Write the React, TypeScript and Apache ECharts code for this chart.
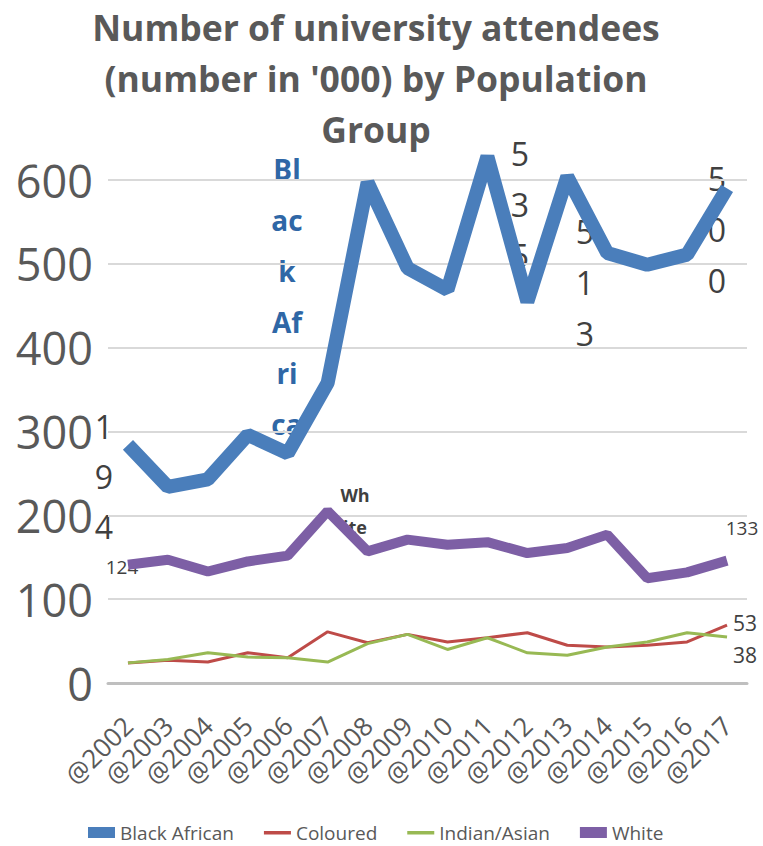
import React, { useEffect, useRef } from "react";
import * as echarts from "echarts";

const years = ["@2002", "@2003", "@2004", "@2005", "@2006", "@2007", "@2008", "@2009", "@2010", "@2011", "@2012", "@2013", "@2014", "@2015", "@2016", "@2017"];
const blackAfrican = [284, 234, 243, 296, 274, 358, 597, 495, 469, 628, 455, 604, 513, 499, 511, 590];
const coloured = [24, 27, 25, 36, 30, 61, 48, 58, 49, 54, 60, 45, 43, 45, 49, 69];
const indianAsian = [24, 28, 36, 31, 30, 25, 47, 58, 40, 54, 36, 33, 43, 49, 60, 55];
const white = [141, 147, 133, 145, 152, 205, 157, 171, 165, 168, 155, 161, 177, 125, 132, 146];
const yTicks = { min: 0, max: 600, interval: 100 };

const titleText = "Number of university attendees\n(number in '000) by Population\nGroup";
const seriesNames = ["Black African", "Coloured", "Indian/Asian", "White"];
const colors = ["#4a7ebb", "#be4b48", "#98b954", "#7d5fa5"];

// text annotations (data labels as shown)
const annotations = [
  { text: "Bl\nac\nk\nAf\nri\nca", x: 287, y: 143, size: 28, lh: 51, bold: true, color: "#2f67a6" },
  { text: "1\n9\n4", x: 104, y: 401, size: 32, lh: 50, bold: false, color: "#404040" },
  { text: "5\n3\n5", x: 520, y: 128, size: 32, lh: 51, bold: false, color: "#404040" },
  { text: "5\n1\n3", x: 585, y: 206, size: 32, lh: 51, bold: false, color: "#404040" },
  { text: "5\n0\n0", x: 717, y: 153, size: 32, lh: 51, bold: false, color: "#404040" },
  { text: "Wh\nite", x: 355, y: 479, size: 18, lh: 32, bold: true, color: "#404040" },
  { text: "124", x: 122, y: 557, size: 19, lh: 20, bold: false, color: "#404040" },
  { text: "133", x: 742, y: 518, size: 19, lh: 20, bold: false, color: "#404040" },
  { text: "53", x: 745, y: 612, size: 21, lh: 22, bold: false, color: "#404040" },
  { text: "38", x: 745, y: 644, size: 21, lh: 22, bold: false, color: "#404040" },
];

const FONT = "'Open Sans', 'DejaVu Sans', sans-serif";
const thinIcon = "path://M0,0h0.05v0.05h-0.05Z M0,4h28v3.5h-28Z M27.95,10.95h0.05v0.05h-0.05Z";

export default function App() {
  const ref = useRef<HTMLDivElement>(null);
  useEffect(() => {
    if (!ref.current) return;
    const chart = echarts.init(ref.current, null, { renderer: "svg" });
    const values = [blackAfrican, coloured, indianAsian, white];
    const widths = [14, 3, 3, 10];
    chart.setOption({
      animation: false,
      backgroundColor: "#ffffff",
      textStyle: { fontFamily: FONT },
      title: {
        text: titleText,
        left: 376,
        top: 1,
        padding: 0,
        textAlign: "center",
        textStyle: { fontFamily: FONT, fontSize: 35.5, fontWeight: "bold", color: "#595959", lineHeight: 51 },
      },
      legend: {
        left: 83,
        top: 818,
        itemWidth: 27,
        itemHeight: 11,
        itemGap: 30,
        textStyle: { fontFamily: FONT, fontSize: 19, color: "#595959" },
        data: [
          { name: seriesNames[0], icon: "rect" },
          { name: seriesNames[1], icon: thinIcon },
          { name: seriesNames[2], icon: thinIcon },
          { name: seriesNames[3], icon: "rect" },
        ],
      },
      grid: { left: 108, right: 16, top: 180, bottom: 163, containLabel: false },
      xAxis: {
        type: "category",
        data: years,
        boundaryGap: true,
        axisLine: { show: true, lineStyle: { color: "#bfbfbf", width: 3 } },
        axisTick: { show: false },
        axisLabel: { interval: 0, rotate: 45, fontSize: 26, margin: 38, color: "#595959", fontFamily: FONT },
        splitLine: { show: false },
      },
      yAxis: {
        type: "value",
        min: yTicks.min,
        max: yTicks.max,
        interval: yTicks.interval,
        axisLine: { show: false },
        axisTick: { show: false },
        axisLabel: { fontSize: 45, margin: 15, color: "#595959", fontFamily: FONT },
        splitLine: { lineStyle: { color: "#d9d9d9", width: 2 } },
      },
      series: seriesNames.map((name, i) => ({
        name,
        type: "line",
        data: values[i],
        symbol: "none",
        clip: false,
        color: colors[i],
        itemStyle: { color: colors[i] },
        lineStyle: { color: colors[i], width: widths[i] },
      })),
      graphic: annotations.map((a) => ({
        type: "text",
        x: a.x,
        y: a.y,
        z: 0,
        style: {
          text: a.text,
          fill: a.color,
          fontFamily: FONT,
          fontSize: a.size,
          fontWeight: a.bold ? "bold" : "normal",
          lineHeight: a.lh,
          align: "center",
          verticalAlign: "top",
        },
      })),
    });
    return () => chart.dispose();
  }, []);
  return <div ref={ref} style={{ position: "fixed", left: 0, top: 0, width: 763, height: 846 }} />;
}
